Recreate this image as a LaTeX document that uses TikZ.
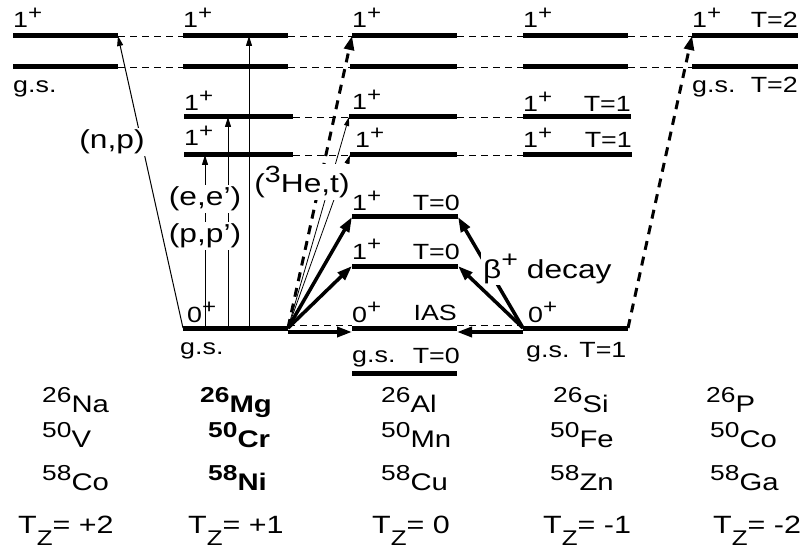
\documentclass[tikz,border=0pt]{standalone}
\usepackage{fontspec}
\usepackage{graphicx}
\setmainfont{Liberation Sans}[FakeStretch=1.22]
\usetikzlibrary{arrows.meta}
\newcommand\upp[1]{\raisebox{0.4em}{\scalebox{0.9}{#1}}}
\newcommand\dnn[1]{\raisebox{-0.5em}{\scalebox{0.85}{#1}}}
\newcommand\lev[4]{\coordinate (#1-l) at (#2,#4); \coordinate (#1-r) at (#3,#4); \draw[level] (#1-l) -- (#1-r);}
\begin{document}
\begin{tikzpicture}[x=1pt,y=-1pt,
  level/.style={line width=5pt},
  link/.style={line width=0.9pt, dash pattern=on 7pt off 5pt},
  thinarr/.style={line width=1pt,-{Triangle[length=10pt,width=6pt]}},
  fineartr/.style={line width=0.8pt,-{Triangle[length=9pt,width=5pt]}},
  thickarr/.style={line width=3.5pt,-{Triangle[length=15pt,width=10pt]}},
  dasharr/.style={line width=3pt,dash pattern=on 9pt off 7pt,-{Triangle[length=14pt,width=10pt]}},
  lab/.style={inner sep=0pt,font=\fontsize{22}{26}\selectfont},
  labw/.style={lab,anchor=base west},
  labe/.style={lab,anchor=base east},
  wlab/.style={inner sep=2pt,fill=white,font=\fontsize{26}{30}\selectfont},
  iso/.style={inner sep=0pt,anchor=base west,font=\fontsize{24}{28}\selectfont},
  tz/.style={inner sep=0pt,anchor=base west,font=\fontsize{25}{30}\selectfont},
]
\useasboundingbox (0,0) rectangle (803,556);
% levels
\lev{A1}{13}{118}{36}
\lev{A0}{13}{118}{67}
\lev{B1}{183}{288}{36}
\lev{B0}{183}{288}{67}
\lev{Bm1}{184}{293}{117}
\lev{Bm2}{184}{293}{155}
\lev{Bgs}{183}{288}{328}
\lev{C1}{352}{457}{36}
\lev{C0}{350}{457}{67}
\lev{Cm1}{349}{457}{117}
\lev{Cm2}{350}{457}{155}
\lev{Cu1}{352}{458}{217}
\lev{Cu2}{352}{458}{266}
\lev{Cias}{352}{457}{328}
\lev{Cgs}{352}{457}{373}
\lev{D1}{523}{628}{36}
\lev{D0}{523}{628}{67}
\lev{Dm1}{523}{631}{117}
\lev{Dm2}{523}{632}{155}
\lev{Dgs}{523}{628}{328}
\lev{E1}{692}{798}{36}
\lev{E0}{692}{798}{67}
% dashed links
\draw[link] (A1-r) -- (B1-l);
\draw[link] (B1-r) -- (C1-l);
\draw[link] (C1-r) -- (D1-l);
\draw[link] (D1-r) -- (E1-l);
\draw[link] (A0-r) -- (B0-l);
\draw[link] (B0-r) -- (C0-l);
\draw[link] (C0-r) -- (D0-l);
\draw[link] (D0-r) -- (E0-l);
\draw[link] (Bm1-r) -- (Cm1-l);
\draw[link] (Cm1-r) -- (Dm1-l);
\draw[link] (Bm2-r) -- (Cm2-l);
\draw[link] (Cm2-r) -- (Dm2-l);
\draw[link] ([yshift=3pt]Bgs-r) -- ([yshift=3pt]Cias-l);
\draw[link] ([yshift=3pt]Cias-r) -- ([yshift=3pt]Dgs-l);
% vertical excitations
\coordinate (v1) at (205,328); \coordinate (v1t) at (205,155);
\coordinate (v2) at (228,328); \coordinate (v2t) at (228,117);
\coordinate (v3) at (249,328); \coordinate (v3t) at (249,36);
\draw[thinarr] (v1) -- (v1t);
\draw[thinarr] (v2) -- (v2t);
\draw[thinarr] (v3) -- (v3t);
% (n,p)
\draw[thinarr] (Bgs-l) -- (A1-r);
% (3He,t)
\draw[fineartr] (Bgs-r) -- (Cm1-l);
\draw[fineartr] (Bgs-r) -- (Cm2-l);
\draw[dasharr] (Bgs-r) -- (C1-l);
\draw[dasharr] (Dgs-r) -- (E1-l);
% charge exchange to Tz=0
\draw[thickarr] (Bgs-r) -- (Cu1-l);
\draw[thickarr] (Bgs-r) -- (Cu2-l);
\draw[thickarr] ([yshift=-4pt]Bgs-r) -- ([yshift=-4pt]Cias-l);
% beta decay
\draw[thickarr] (Dgs-l) -- (Cu1-r);
\draw[thickarr] ([yshift=-4pt]Dgs-l) -- ([yshift=-4pt]Cias-r);
% labels with white background
\node[wlab] (np) at (112,142) {(n,p)};
\node[wlab] (ee) at (205,199) {(e,e')};
\node[wlab] (pp) at (205,236) {(p,p')};
\node[wlab,anchor=base] (het) at (302,193) {(\upp{3}He,t)};
\node[wlab,anchor=base west] (beta) at (481,278) {β\upp{+} decay};
\draw[thickarr] (Dgs-l) -- (Cu2-r);
% level labels
\node[labw] (lA1) at (13,28) {1\upp{+}};
\node[labw] (lA0) at (13,93) {g.s.};
\node[labw] (lB1) at (183,28) {1\upp{+}};
\node[labw] (lBm1) at (184,111) {1\upp{+}};
\node[labw] (lBm2) at (184,146) {1\upp{+}};
\node[labw] (lBgs0) at (187,322) {0\upp{+}};
\node[labw] (lBgs) at (180,354) {g.s.};
\node[labw] (lC1) at (352,28) {1\upp{+}};
\node[labw] (lCm1) at (352,110) {1\upp{+}};
\node[labw] (lCm2) at (355,148) {1\upp{+}};
\node[labw] (lCu1) at (352,211) {1\upp{+}};
\node[labe] (lCu1T) at (460,211) {T=0};
\node[labw] (lCu2) at (352,259) {1\upp{+}};
\node[labe] (lCu2T) at (460,259) {T=0};
\node[labw] (lCias) at (352,322) {0\upp{+}};
\node[labe] (lCiasT) at (457,320) {IAS};
\node[labw] (lCgs) at (352,362) {g.s.};
\node[labe] (lCgsT) at (460,363) {T=0};
\node[labw] (lD1) at (523,28) {1\upp{+}};
\node[labw] (lDm1) at (523,112) {1\upp{+}};
\node[labe] (lDm1T) at (631,112) {T=1};
\node[labw] (lDm2) at (523,148) {1\upp{+}};
\node[labe] (lDm2T) at (632,148) {T=1};
\node[labw] (lDgs0) at (528,322) {0\upp{+}};
\node[labw] (lDgs) at (526,357) {g.s. T=1};
\node[labw] (lE1) at (692,28) {1\upp{+}};
\node[labe] (lE1T) at (798,28) {T=2};
\node[labw] (lE0) at (692,93) {g.s.};
\node[labe] (lE0T) at (798,93) {T=2};
% isotopes
\node[iso] (na) at (42,412) {\upp{26}Na};
\node[iso] (v) at (42,447) {\upp{50}V};
\node[iso] (co) at (42,490) {\upp{58}Co};
\node[iso] (mg) at (200,412) {\bfseries\upp{26}Mg};
\node[iso] (cr) at (208,447) {\bfseries\upp{50}Cr};
\node[iso] (ni) at (208,490) {\bfseries\upp{58}Ni};
\node[iso] (al) at (381,412) {\upp{26}Al};
\node[iso] (mn) at (381,447) {\upp{50}Mn};
\node[iso] (cu) at (381,490) {\upp{58}Cu};
\node[iso] (si) at (553,412) {\upp{26}Si};
\node[iso] (fe) at (550,447) {\upp{50}Fe};
\node[iso] (zn) at (550,490) {\upp{58}Zn};
\node[iso] (p) at (706,412) {\upp{26}P};
\node[iso] (co2) at (710,447) {\upp{50}Co};
\node[iso] (ga) at (710,490) {\upp{58}Ga};
% Tz
\node[tz] (tz1) at (18,533) {T\dnn{Z}= +2};
\node[tz] (tz2) at (188,533) {T\dnn{Z}= +1};
\node[tz] (tz3) at (372,533) {T\dnn{Z}= 0};
\node[tz] (tz4) at (543,533) {T\dnn{Z}= -1};
\node[tz] (tz5) at (713,533) {T\dnn{Z}= -2};
\end{tikzpicture}
\end{document}
